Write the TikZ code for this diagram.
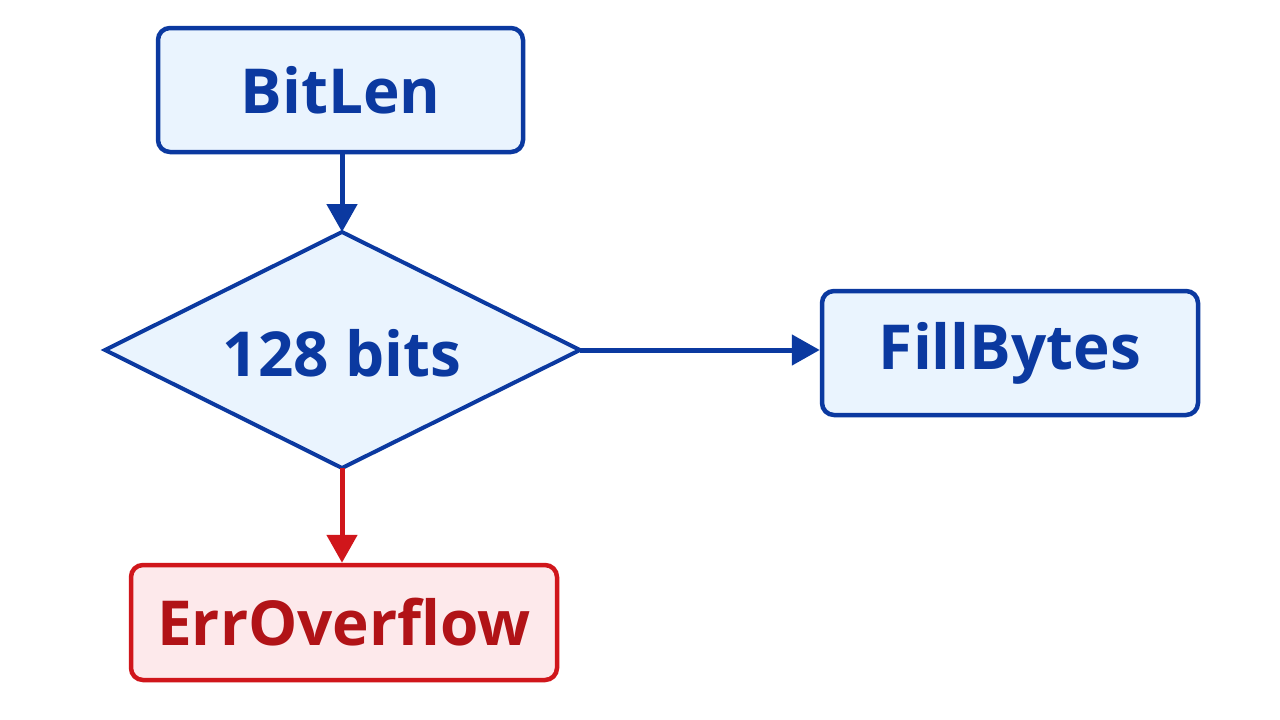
\documentclass[tikz,border=0pt]{standalone}
\usepackage{fontspec}
\setmainfont{Open Sans}
\usetikzlibrary{arrows.meta,shapes.geometric}
\definecolor{bl}{HTML}{0B39A0}
\definecolor{blf}{HTML}{EAF4FE}
\definecolor{rd}{HTML}{D0161B}
\definecolor{rdf}{HTML}{FDE9EB}
\begin{document}
\begin{tikzpicture}[x=1pt,y=-1pt,
  box/.style={draw=bl,fill=blf,line width=4.5pt,rounded corners=12pt,inner sep=0pt,text=bl,font=\fontsize{62}{64}\selectfont\bfseries},
  arr/.style={line width=5pt,draw=bl,-{Triangle[width=30pt,length=28pt]}}]
\useasboundingbox[fill=white] (0,0) rectangle (1280,720);
\node[box,minimum width=365pt,minimum height=124pt] (bit) at (340.5,90) {BitLen};
\draw[bl,fill=blf,line width=4pt,line join=miter] (342,232) coordinate (dn) -- (580,350) coordinate (de) -- (342,468) coordinate (ds) -- (105,350) -- cycle;
\node[text=bl,font=\fontsize{62}{64}\selectfont\bfseries] (dec) at (342,353) {128 bits};
\node[box,minimum width=376pt,minimum height=124pt] (fill) at (1010,353) {FillBytes};
\node[box,draw=rd,fill=rdf,text=rd!85!black,minimum width=426pt,minimum height=115pt] (err) at (344,622.5) {ErrOverflow};
\draw[arr] (bit.south -| dn) -- (dn);
\draw[arr] (de) -- (de -| fill.west);
\draw[arr,draw=rd,fill=rd] (ds) -- (ds |- err.north);
\end{tikzpicture}
\end{document}
